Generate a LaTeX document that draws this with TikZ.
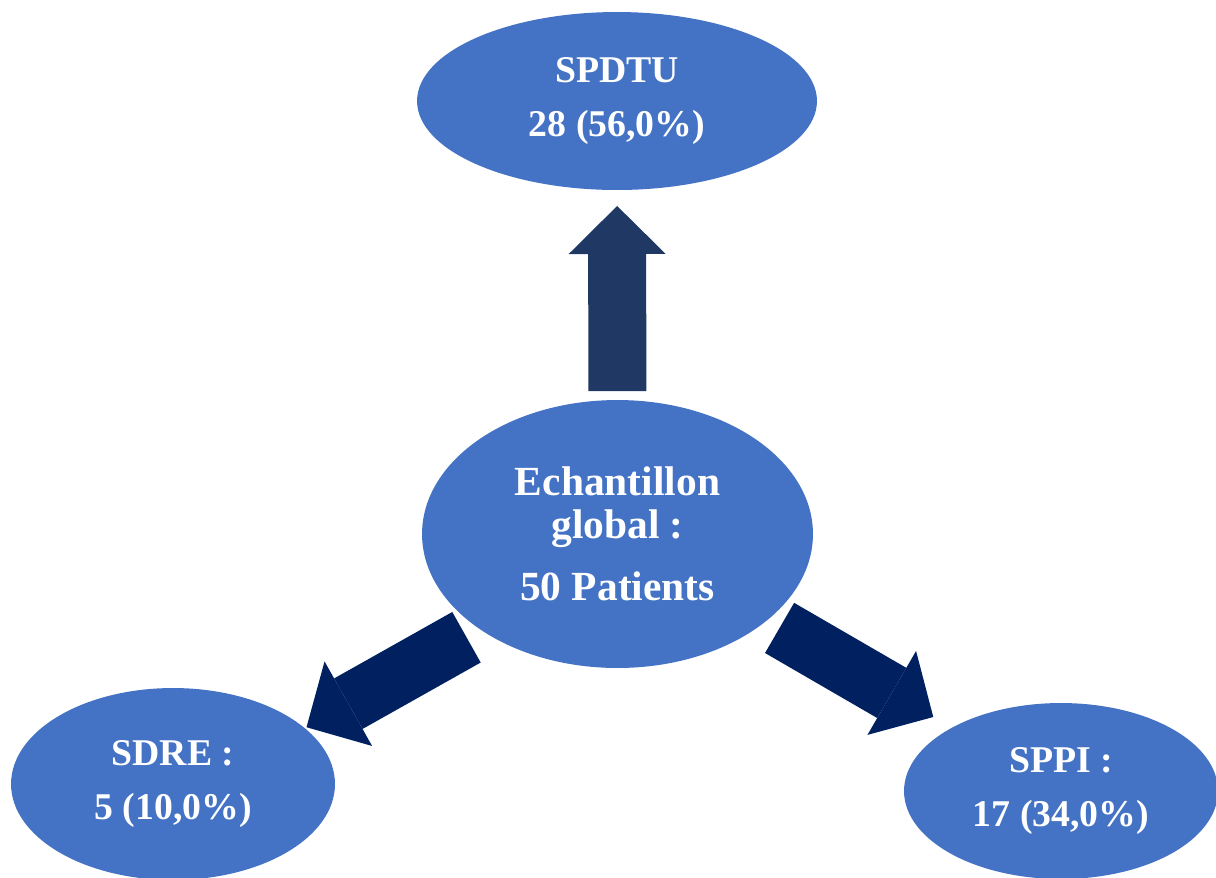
\documentclass[tikz,border=0pt]{standalone}
\usepackage{fontspec}
\setmainfont{Liberation Serif}
\usetikzlibrary{shapes.geometric}
\usetikzlibrary{arrows.meta}

\definecolor{bubble}{HTML}{4472C4}
\definecolor{upshaft}{HTML}{203864}
\definecolor{sideshaft}{HTML}{002060}

\begin{document}
\begin{tikzpicture}[x=0.02cm, y=-0.02cm, bubble/.style={ellipse, fill=bubble, inner sep=0pt, outer sep=0pt, text=white, align=center, font=\bfseries\fontsize{21.5}{30.2}\selectfont}, blockarrow/.style={line width=1.16cm, -{Triangle[length=0.96cm, width=1.94cm, line width=0pt]}}]
  \useasboundingbox (0,0) rectangle (1216,877);
  \node[bubble, minimum width=8cm, minimum height=3.56cm] (spdtu) at (617,101) {SPDTU\\28 (56,0\%)};
  \node[bubble, minimum width=7.82cm, minimum height=5.36cm, font=\bfseries\fontsize{23.6}{24.5}\selectfont] (global) at (617.5,534) {Echantillon\\global :\\[10.8pt]50 Patients};
  \node[bubble, minimum width=6.48cm, minimum height=3.84cm] (sdre) at (173,784) {SDRE :\\5 (10,0\%)};
  \node[bubble, minimum width=6.28cm, minimum height=3.52cm] (sppi) at (1061,791) {SPPI :\\17 (34,0\%)};
  \draw[blockarrow, draw=upshaft, shorten <=0.18cm, shorten >=0.32cm] (global) -- (spdtu);
  \draw[blockarrow, draw=sideshaft, shorten <=0.296cm, shorten >=0.43cm] (global) -- (sppi);
  \draw[blockarrow, draw=sideshaft, shorten <=3.466cm, shorten >=3.064cm] ([yshift=-0.366cm]global.center) -- ([yshift=-0.366cm]sdre.center);
\end{tikzpicture}
\end{document}
